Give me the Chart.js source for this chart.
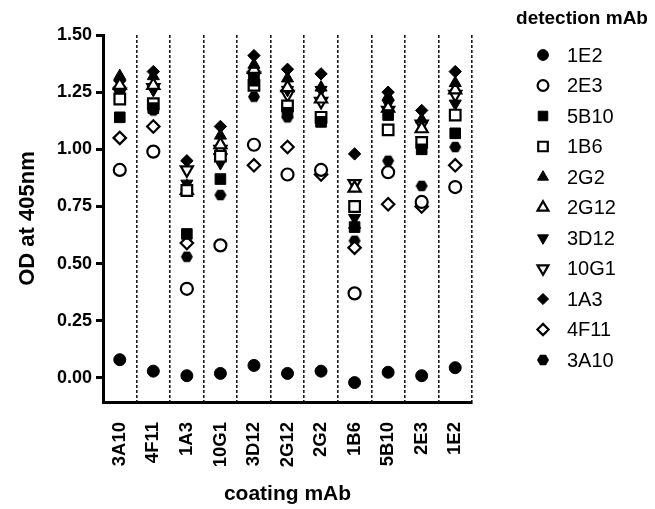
<!DOCTYPE html>
<html>
<head>
<meta charset="utf-8">
<script src="https://cdn.jsdelivr.net/npm/chart.js"></script>
<style>
  html, body { margin: 0; padding: 0; background: #fff; }
  #wrap { width: 655px; height: 509px; }
</style>
</head>
<body>
<div id="wrap"><canvas id="elisaChart" width="655" height="509"></canvas></div>
<script>
// Coating antibodies along the x axis
const coatingMabs = ["3A10", "4F11", "1A3", "10G1", "3D12", "2G12", "2G2", "1B6", "5B10", "2E3", "1E2"];

// Detection antibodies (one series each)
const detectionMabs = ["1E2", "2E3", "5B10", "1B6", "2G2", "2G12", "3D12", "10G1", "1A3", "4F11", "3A10"];

// OD405 per detection mAb, in coatingMabs order
const od1E2  = [0.08, 0.03, 0.01, 0.02, 0.055, 0.02, 0.03, -0.02, 0.025, 0.01, 0.045];
const od2E3  = [0.91, 0.99, 0.39, 0.58, 1.02, 0.89, 0.91, 0.37, 0.90, 0.77, 0.835];
const od5B10 = [1.14, 1.18, 0.63, 0.87, 1.30, 1.16, 1.12, 0.66, 1.15, 1.00, 1.07];
const od1B6  = [1.22, 1.20, 0.82, 0.97, 1.28, 1.19, 1.14, 0.75, 1.085, 1.03, 1.15];
const od2G2  = [1.32, 1.32, 0.84, 1.06, 1.37, 1.31, 1.27, 0.67, 1.23, 1.13, 1.29];
const od2G12 = [1.28, 1.28, 0.82, 1.02, 1.35, 1.27, 1.22, 0.83, 1.18, 1.09, 1.26];
const od3D12 = [1.26, 1.26, 0.85, 0.94, 1.33, 1.26, 1.26, 0.70, 1.20, 1.04, 1.20];
const od10G1 = [1.25, 1.27, 0.91, 1.00, 1.32, 1.24, 1.21, 0.85, 1.17, 1.11, 1.24];
const od1A3  = [1.30, 1.34, 0.95, 1.10, 1.41, 1.35, 1.33, 0.98, 1.25, 1.17, 1.34];
const od4F11 = [1.05, 1.10, 0.59, 0.98, 0.93, 1.01, 0.89, 0.57, 0.76, 0.75, 0.93];
const od3A10 = [1.24, 1.17, 0.53, 0.80, 1.23, 1.14, 1.13, 0.60, 0.95, 0.84, 1.01];

const seriesValues = [od1E2, od2E3, od5B10, od1B6, od2G2, od2G12, od3D12, od10G1, od1A3, od4F11, od3A10];

// Y axis tick values
const yTicks = [0, 0.25, 0.5, 0.75, 1.0, 1.25, 1.5];

const FONT = "'Liberation Sans', Arial, Helvetica, sans-serif";
Chart.defaults.font.family = FONT;
Chart.defaults.color = "#000";

// small filled hexagon used for the last series
function makeHexagon(r) {
    const size = Math.ceil(r * 2) + 2;
    const c = document.createElement("canvas");
    c.width = size;
    c.height = size;
    const g = c.getContext("2d");
    const cx = size / 2, cy = size / 2;
    g.beginPath();
    for (let i = 0; i < 6; i++) {
        const a = Math.PI / 3 * i;
        const px = cx + Math.cos(a) * r;
        const py = cy + Math.sin(a) * r;
        if (i === 0) g.moveTo(px, py); else g.lineTo(px, py);
    }
    g.closePath();
    g.fillStyle = "#000";
    g.fill();
    return c;
}

// marker style per series: [pointStyle, rotation, radius, open?]
const markerStyles = [
    ["circle", 0, 6, false],
    ["circle", 0, 6, true],
    ["rect", 0, 7.5, false],
    ["rect", 0, 7.5, true],
    ["triangle", 0, 7, false],
    ["triangle", 0, 7, true],
    ["triangle", 180, 7, false],
    ["triangle", 180, 7, true],
    ["rectRot", 0, 6.2, false],
    ["rectRot", 0, 6.2, true],
    [makeHexagon(6), 0, 6, false]
];

const datasets = detectionMabs.map((name, i) => {
    const [style, rot, radius, open] = markerStyles[i];
    return {
        label: name,
        data: seriesValues[i],
        showLine: false,
        pointStyle: style,
        pointRotation: rot,
        pointRadius: radius,
        pointHoverRadius: radius,
        pointBackgroundColor: open ? "#fff" : "#000",
        pointBorderColor: "#000",
        pointBorderWidth: open ? 2.2 : 1
    };
});

// legend on the right with its title
const sideLegend = {
    id: "sideLegend",
    afterDraw(chart) {
        const ctx = chart.ctx;
        ctx.save();
        ctx.fillStyle = "#000";
        ctx.textBaseline = "middle";
        ctx.textAlign = "center";
        ctx.font = "bold 19px " + FONT;
        ctx.fillText("detection mAb", 582, 19);

        ctx.textAlign = "left";
        ctx.font = "20px " + FONT;
        chart.data.datasets.forEach((ds, i) => {
            const y = 55 + i * 30.5;
            ctx.fillStyle = ds.pointBackgroundColor;
            ctx.strokeStyle = ds.pointBorderColor;
            ctx.lineWidth = ds.pointBorderWidth;
            Chart.helpers.drawPoint(ctx, {
                pointStyle: ds.pointStyle,
                rotation: ds.pointRotation,
                radius: ds.pointRadius * 0.9,
                borderWidth: ds.pointBorderWidth
            }, 543, y);
            ctx.fillStyle = "#000";
            ctx.fillText(ds.label, 567, y + 1);
        });
        ctx.restore();
    }
};

new Chart(document.getElementById("elisaChart"), {
    type: "line",
    data: {
        labels: coatingMabs,
        datasets: datasets
    },
    options: {
        responsive: false,
        animation: false,
        devicePixelRatio: 1,
        layout: { padding: { top: 35, right: 183, bottom: 0, left: 0 } },
        plugins: {
            legend: { display: false },
            tooltip: { enabled: false }
        },
        elements: { point: { hitRadius: 0 } },
        scales: {
            x: {
                type: "category",
                offset: true,
                grid: {
                    offset: true,
                    color: "#1a1a1a",
                    lineWidth: 1.6,
                    drawTicks: false
                },
                border: { display: true, color: "#000", width: 3, dash: [3, 2] },
                ticks: {
                    minRotation: 90,
                    maxRotation: 90,
                    padding: 20,
                    font: { size: 18.5, weight: "bold" }
                },
                title: {
                    display: true,
                    text: "coating mAb",
                    font: { size: 21, weight: "bold" },
                    padding: { top: 0, bottom: 2 }
                },
                afterFit(scale) { scale.height = 107; }
            },
            y: {
                min: -0.105,
                max: 1.5,
                grid: {
                    drawOnChartArea: false,
                    drawTicks: true,
                    tickLength: 7,
                    tickWidth: 3,
                    tickColor: "#000"
                },
                border: { display: true, color: "#000", width: 3 },
                afterBuildTicks(scale) {
                    scale.ticks = yTicks.map(v => ({ value: v }));
                },
                ticks: {
                    padding: 4,
                    font: { size: 18, weight: "bold" },
                    callback: v => Number(v).toFixed(2)
                },
                title: {
                    display: true,
                    text: "OD at 405nm",
                    font: { size: 22, weight: "bold" },
                    padding: { top: 15, bottom: 0 }
                },
                afterFit(scale) { scale.width = 103; }
            }
        }
    },
    plugins: [sideLegend]
});
</script>
</body>
</html>
